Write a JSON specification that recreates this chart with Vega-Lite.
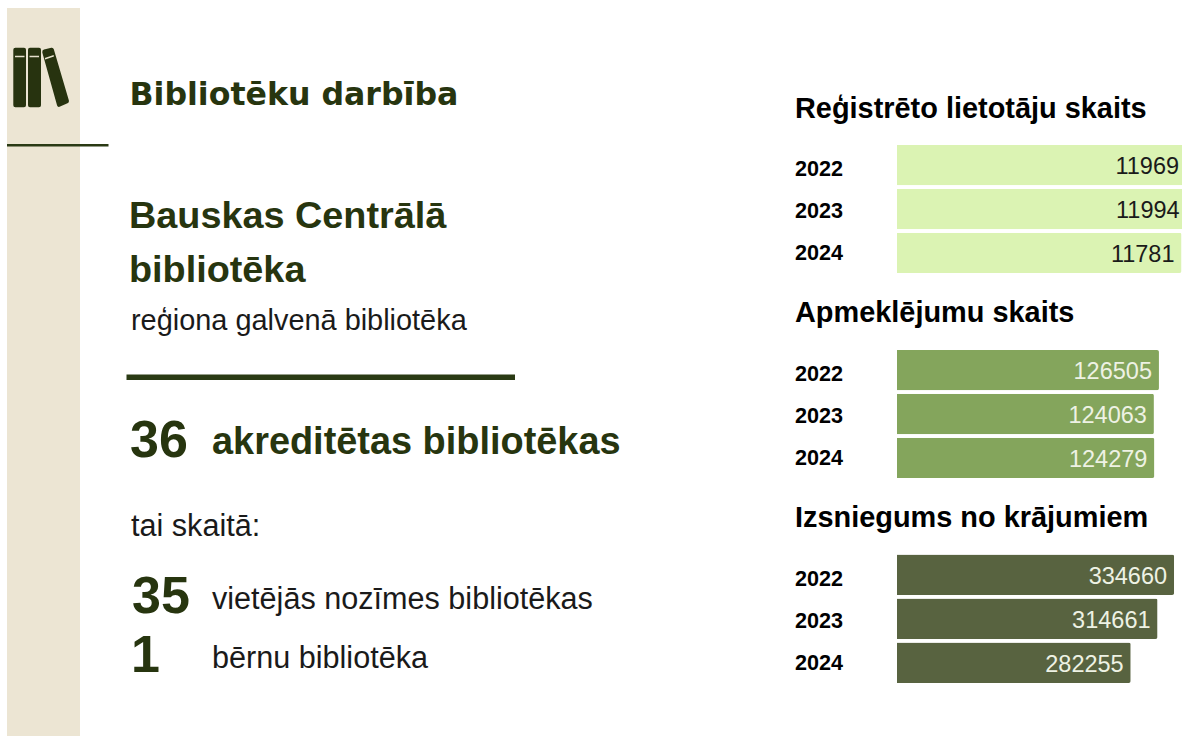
{"$schema":"https://vega.github.io/schema/vega-lite/v6.json","width":1182,"height":736,"padding":0,"autosize":{"type":"none"},"background":"white","config":{"view":{"stroke":null},"text":{"font":"Liberation Sans","align":"left","baseline":"alphabetic"}},"resolve":{"scale":{"x":"independent","y":"independent"}},"datasets":{"shapes":[{"shape":"sidebar"}],"icon":[{"shape":"books"}],"hrule":[{"shape":"top rule"}],"mrule":[{"shape":"middle rule"}],"head":[{"label":"Bibliotēku darbība"}],"name":[{"label":"Bauskas Centrālā"},{"label":"bibliotēka"}],"sub":[{"label":"reģiona galvenā bibliotēka"}],"n36":[{"label":"36"}],"akr":[{"label":"akreditētas bibliotēkas"}],"tai":[{"label":"tai skaitā:"}],"n35":[{"label":"35"}],"n1":[{"label":"1"}],"t35":[{"label":"vietējās nozīmes bibliotēkas"}],"t1":[{"label":"bērnu bibliotēka"}],"titles":[{"label":"Reģistrēto lietotāju skaits"},{"label":"Apmeklējumu skaits"},{"label":"Izsniegums no krājumiem"}],"reg":[{"year":"2022","value":11969},{"year":"2023","value":11994},{"year":"2024","value":11781}],"apm":[{"year":"2022","value":126505},{"year":"2023","value":124063},{"year":"2024","value":124279}],"izs":[{"year":"2022","value":334660},{"year":"2023","value":314661},{"year":"2024","value":282255}]},"layer":[
{"data":{"name":"shapes"},"mark":{"type":"rect","color":"#ece5d3"},"encoding":{"x":{"field":"shape","type":"nominal","axis":null,"scale":{"type":"band","range":[7,80],"padding":0}},"y":{"field":"shape","type":"nominal","axis":null,"scale":{"type":"band","range":[8,736],"padding":0}}}},
{"data":{"name":"hrule"},"mark":{"type":"rect","color":"#2a3a14"},"encoding":{"x":{"field":"shape","type":"nominal","axis":null,"scale":{"type":"band","range":[7,108.5],"padding":0}},"y":{"field":"shape","type":"nominal","axis":null,"scale":{"type":"band","range":[144,146.5],"padding":0}}}},
{"data":{"name":"mrule"},"mark":{"type":"rect","color":"#2a3a14"},"encoding":{"x":{"field":"shape","type":"nominal","axis":null,"scale":{"type":"band","range":[126.5,515],"padding":0}},"y":{"field":"shape","type":"nominal","axis":null,"scale":{"type":"band","range":[374.5,380],"padding":0}}}},
{"data":{"name":"icon"},"mark":{"type":"point","filled":true,"opacity":1,"size":4,"color":"#27330f","shape":"M-25.7,-29.8 H-17 Q-15,-29.8 -15,-27.8 V27.8 Q-15,29.8 -17,29.8 H-25.7 Q-27.7,29.8 -27.7,27.8 V-27.8 Q-27.7,-29.8 -25.7,-29.8 Z M-11,-29.8 H-2 Q0,-29.8 0,-27.8 V27.8 Q0,29.8 -2,29.8 H-11 Q-13,29.8 -13,27.8 V-27.8 Q-13,-29.8 -11,-29.8 Z M3,-27.9 L10.3,-29.7 Q12.2,-30.1 12.8,-28.2 L27.9,23 Q28.4,25 26.5,25.8 L18.5,29.3 Q16.7,29.9 16.1,28 L1.3,-25 Q0.9,-27.2 3,-27.9 Z"},"encoding":{"x":{"field":"shape","type":"nominal","axis":null,"scale":{"type":"point","range":[41,41],"padding":0}},"y":{"field":"shape","type":"nominal","axis":null,"scale":{"type":"point","range":[77.5,77.5],"padding":0}}}},
{"data":{"name":"icon"},"mark":{"type":"point","filled":true,"opacity":1,"size":4,"color":"#e6e0cc","shape":"M-26,-21.8 H-16.5 V-20.2 H-26 Z M-11.5,-21.8 H-2 V-20.2 H-11.5 Z M3.8,-19.4 L12.6,-22.4 L13,-21 L4.2,-18 Z"},"encoding":{"x":{"field":"shape","type":"nominal","axis":null,"scale":{"type":"point","range":[41,41],"padding":0}},"y":{"field":"shape","type":"nominal","axis":null,"scale":{"type":"point","range":[77.5,77.5],"padding":0}}}},
{"data":{"name":"head"},"mark":{"type":"text","font":"DejaVu Sans","fontWeight":"bold","fontSize":31.6,"color":"#27350f"},"encoding":{"text":{"field":"label"},"x":{"field":"label","type":"nominal","axis":null,"scale":{"type":"point","range":[129.5,129.5],"padding":0}},"y":{"field":"label","type":"nominal","axis":null,"scale":{"type":"point","range":[105,105],"padding":0}}}},
{"data":{"name":"name"},"mark":{"type":"text","fontWeight":"bold","fontSize":37.8,"color":"#27350f"},"encoding":{"text":{"field":"label"},"x":{"field":"label","type":"nominal","axis":null,"scale":{"type":"point","range":[129,129],"padding":0}},"y":{"field":"label","type":"nominal","sort":null,"axis":null,"scale":{"type":"point","domain":["Bauskas Centrālā","bibliotēka"],"range":[228.3,282],"padding":0}}}},
{"data":{"name":"sub"},"mark":{"type":"text","fontSize":28.9,"color":"#1a1a1a"},"encoding":{"text":{"field":"label"},"x":{"field":"label","type":"nominal","axis":null,"scale":{"type":"point","range":[131,131],"padding":0}},"y":{"field":"label","type":"nominal","axis":null,"scale":{"type":"point","range":[330,330],"padding":0}}}},
{"data":{"name":"n36"},"mark":{"type":"text","fontWeight":"bold","fontSize":52,"color":"#27350f"},"encoding":{"text":{"field":"label"},"x":{"field":"label","type":"nominal","axis":null,"scale":{"type":"point","range":[130,130],"padding":0}},"y":{"field":"label","type":"nominal","axis":null,"scale":{"type":"point","range":[456.7,456.7],"padding":0}}}},
{"data":{"name":"akr"},"mark":{"type":"text","fontWeight":"bold","fontSize":37.9,"color":"#27350f"},"encoding":{"text":{"field":"label"},"x":{"field":"label","type":"nominal","axis":null,"scale":{"type":"point","range":[212,212],"padding":0}},"y":{"field":"label","type":"nominal","axis":null,"scale":{"type":"point","range":[453.5,453.5],"padding":0}}}},
{"data":{"name":"tai"},"mark":{"type":"text","fontSize":30.6,"color":"#1a1a1a"},"encoding":{"text":{"field":"label"},"x":{"field":"label","type":"nominal","axis":null,"scale":{"type":"point","range":[131,131],"padding":0}},"y":{"field":"label","type":"nominal","axis":null,"scale":{"type":"point","range":[536,536],"padding":0}}}},
{"data":{"name":"n35"},"mark":{"type":"text","fontWeight":"bold","fontSize":52,"color":"#27350f"},"encoding":{"text":{"field":"label"},"x":{"field":"label","type":"nominal","axis":null,"scale":{"type":"point","range":[132,132],"padding":0}},"y":{"field":"label","type":"nominal","axis":null,"scale":{"type":"point","range":[613,613],"padding":0}}}},
{"data":{"name":"n1"},"mark":{"type":"text","fontWeight":"bold","fontSize":52,"color":"#27350f"},"encoding":{"text":{"field":"label"},"x":{"field":"label","type":"nominal","axis":null,"scale":{"type":"point","range":[131,131],"padding":0}},"y":{"field":"label","type":"nominal","axis":null,"scale":{"type":"point","range":[672,672],"padding":0}}}},
{"data":{"name":"t35"},"mark":{"type":"text","fontSize":30.6,"color":"#1a1a1a"},"encoding":{"text":{"field":"label"},"x":{"field":"label","type":"nominal","axis":null,"scale":{"type":"point","range":[212,212],"padding":0}},"y":{"field":"label","type":"nominal","axis":null,"scale":{"type":"point","range":[609,609],"padding":0}}}},
{"data":{"name":"t1"},"mark":{"type":"text","fontSize":30.6,"color":"#1a1a1a"},"encoding":{"text":{"field":"label"},"x":{"field":"label","type":"nominal","axis":null,"scale":{"type":"point","range":[212,212],"padding":0}},"y":{"field":"label","type":"nominal","axis":null,"scale":{"type":"point","range":[668,668],"padding":0}}}},
{"data":{"name":"titles"},"mark":{"type":"text","fontWeight":"bold","fontSize":28.9,"color":"#000000"},"encoding":{"text":{"field":"label"},"x":{"field":"label","type":"nominal","axis":null,"scale":{"type":"point","range":[795,795],"padding":0}},"y":{"field":"label","type":"nominal","axis":null,"scale":{"type":"point","domain":["Reģistrēto lietotāju skaits","Apmeklējumu skaits","Izsniegums no krājumiem"],"range":[118,526.5],"padding":0}}}},
{"data":{"name":"reg"},"mark":{"type":"text","fontWeight":"bold","fontSize":21.6,"color":"#000000"},"encoding":{"text":{"field":"year"},"x":{"field":"year","type":"nominal","axis":null,"scale":{"type":"point","range":[795,795],"padding":0}},"y":{"field":"year","type":"nominal","axis":null,"scale":{"type":"point","range":[175.7,260],"padding":0}}}},
{"data":{"name":"apm"},"mark":{"type":"text","fontWeight":"bold","fontSize":21.6,"color":"#000000"},"encoding":{"text":{"field":"year"},"x":{"field":"year","type":"nominal","axis":null,"scale":{"type":"point","range":[795,795],"padding":0}},"y":{"field":"year","type":"nominal","axis":null,"scale":{"type":"point","range":[380.7,465],"padding":0}}}},
{"data":{"name":"izs"},"mark":{"type":"text","fontWeight":"bold","fontSize":21.6,"color":"#000000"},"encoding":{"text":{"field":"year"},"x":{"field":"year","type":"nominal","axis":null,"scale":{"type":"point","range":[795,795],"padding":0}},"y":{"field":"year","type":"nominal","axis":null,"scale":{"type":"point","range":[585.7,670],"padding":0}}}},
{"data":{"name":"reg"},"encoding":{"x":{"field":"value","type":"quantitative","axis":null,"scale":{"domain":[0,12000],"range":[897,1186.8],"nice":false}},"y":{"field":"year","type":"nominal","axis":null,"scale":{"type":"band","range":[145,273],"paddingInner":0.08,"paddingOuter":0}}},"layer":[{"mark":{"type":"bar","color":"#dbf3b3","cornerRadiusEnd":2}},{"mark":{"type":"text","align":"right","baseline":"middle","dx":-7,"dy":2,"fontSize":23.5,"color":"#1a1a1a"},"encoding":{"text":{"field":"value","type":"quantitative","format":"d"}}}]},
{"data":{"name":"apm"},"encoding":{"x":{"field":"value","type":"quantitative","axis":null,"scale":{"domain":[0,130000],"range":[897,1166.2],"nice":false}},"y":{"field":"year","type":"nominal","axis":null,"scale":{"type":"band","range":[350,478],"paddingInner":0.08,"paddingOuter":0}}},"layer":[{"mark":{"type":"bar","color":"#84a55c","cornerRadiusEnd":2}},{"mark":{"type":"text","align":"right","baseline":"middle","dx":-7,"dy":2,"fontSize":23.5,"color":"#eef2e4"},"encoding":{"text":{"field":"value","type":"quantitative","format":"d"}}}]},
{"data":{"name":"izs"},"encoding":{"x":{"field":"value","type":"quantitative","axis":null,"scale":{"domain":[0,340000],"range":[897,1178.5],"nice":false}},"y":{"field":"year","type":"nominal","axis":null,"scale":{"type":"band","range":[554.5,683],"paddingInner":0.08,"paddingOuter":0}}},"layer":[{"mark":{"type":"bar","color":"#586340","cornerRadiusEnd":2}},{"mark":{"type":"text","align":"right","baseline":"middle","dx":-7,"dy":2,"fontSize":23.5,"color":"#eef2e4"},"encoding":{"text":{"field":"value","type":"quantitative","format":"d"}}}]}
]}
